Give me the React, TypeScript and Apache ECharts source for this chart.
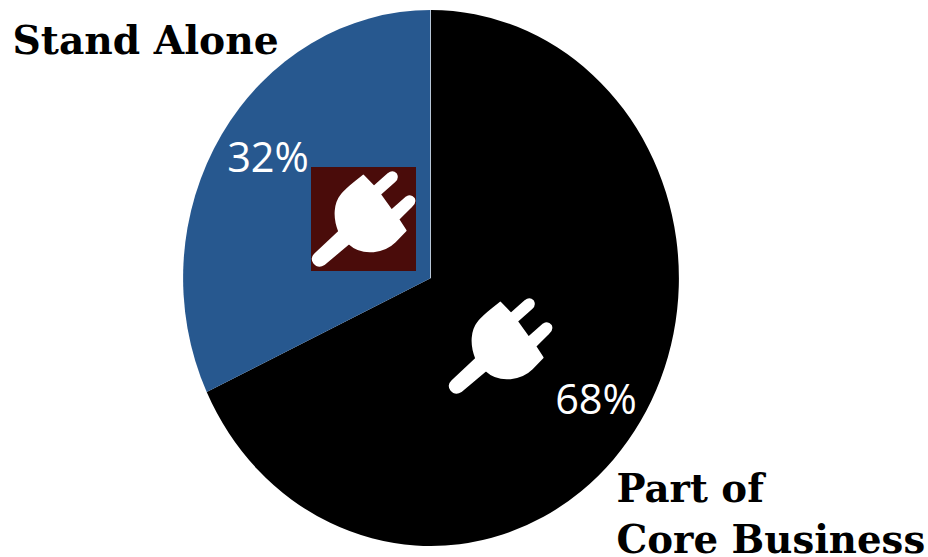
import React, { useEffect, useRef } from "react";
import * as echarts from "echarts";

const categories = ["Part of Core Business", "Stand Alone"];
const shares = [68, 32];
const sliceColors = ["#000000", "#27588F"];

const PLUG_PATH =
  "M190 47 L222 80 L265 42 Q278 32 288 42 Q295 54 284 64 L240 103 L275 152 L320 112 Q333 104 342 116 Q347 128 335 138 L295 178 L317 212 L285 245 C255 275 190 290 147 250 L72 313 Q55 324 42 308 Q33 294 46 282 L118 215 C100 170 105 130 125 105 C140 85 165 68 190 47 Z";
echarts.graphic.registerShape("plug", echarts.graphic.extendPath(PLUG_PATH, {}));

const CX = 431;
const CY = 278;
const RX = 248;
const RY = 268;
const total = shares.reduce((a, b) => a + b, 0);
const labelCenters = [
  [596, 398],
  [268, 156],
];
const plugStyle = { fill: "#ffffff", stroke: "#ffffff", lineWidth: 6, lineJoin: "round" };

// Start angle of a slice, running clockwise from twelve o'clock.
const startOf = (i: number) =>
  -Math.PI / 2 + (shares.slice(0, i).reduce((a, b) => a + b, 0) / total) * Math.PI * 2;

export default function App() {
  const ref = useRef<HTMLDivElement>(null);
  useEffect(() => {
    const chart = echarts.init(ref.current!, null, { renderer: "svg" });
    chart.setOption({
      animation: false,
      backgroundColor: "#ffffff",
      series: [
        {
          type: "custom",
          coordinateSystem: "none",
          silent: true,
          data: shares.map((value, i) => ({ name: categories[i], value })),
          // The pie is taller than it is wide, so each slice is a sector squeezed in x.
          renderItem: (params: any, api: any) => {
            const i = params.dataIndex;
            const value = api.value(0);
            const start = startOf(i);
            return {
              type: "group",
              children: [
                {
                  type: "sector",
                  x: CX,
                  y: CY,
                  scaleX: RX / RY,
                  scaleY: 1,
                  shape: {
                    cx: 0,
                    cy: 0,
                    r0: 0,
                    r: RY,
                    startAngle: start,
                    endAngle: start + (value / total) * Math.PI * 2,
                    clockwise: true,
                  },
                  style: { fill: sliceColors[i] },
                },
              ],
            };
          },
        },
        {
          type: "custom",
          coordinateSystem: "none",
          silent: true,
          z: 5,
          data: shares.map((value, i) => ({ name: categories[i], value })),
          renderItem: (params: any, api: any) => ({
            type: "text",
            x: labelCenters[params.dataIndex][0],
            y: labelCenters[params.dataIndex][1],
            style: {
              text: `${api.value(0)}%`,
              fill: "#ffffff",
              font: '41.5px "Open Sans"',
              align: "center",
              verticalAlign: "middle",
            },
          }),
        },
      ],
      graphic: [
        { type: "rect", z: 10, shape: { x: 311, y: 167, width: 105, height: 104 }, style: { fill: "#4A0C0A" } },
        { type: "plug", z: 11, x: 300, y: 160, scaleX: 1 / 3, scaleY: 1 / 3, style: plugStyle },
        { type: "plug", z: 11, x: 437, y: 287, scaleX: 1 / 3, scaleY: 1 / 3, style: plugStyle },
        { type: "line", z: 9, shape: { x1: 430.5, y1: 10, x2: 430.5, y2: 278 }, style: { stroke: "#B8C6D6", lineWidth: 1 } },
        {
          type: "text",
          z: 12,
          x: 12.5,
          y: 40,
          style: { text: "Stand Alone", fill: "#000000", font: 'bold 39.2px "DejaVu Serif"', verticalAlign: "middle" },
        },
        {
          type: "text",
          z: 12,
          x: 616.5,
          y: 488,
          style: { text: "Part of", fill: "#000000", font: 'bold 38.7px "DejaVu Serif"', verticalAlign: "middle" },
        },
        {
          type: "text",
          z: 12,
          x: 616.5,
          y: 539,
          style: { text: "Core Business", fill: "#000000", font: 'bold 38.7px "DejaVu Serif"', lineHeight: 34, verticalAlign: "middle" },
        },
      ],
    });
    return () => chart.dispose();
  }, []);
  return <div ref={ref} style={{ position: "absolute", left: 0, top: 0, width: 928, height: 557 }} />;
}
